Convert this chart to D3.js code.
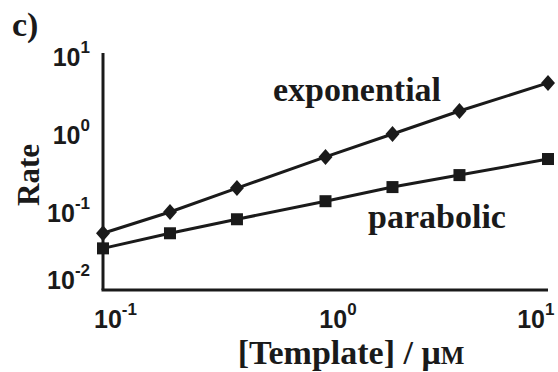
<!DOCTYPE html>
<html>
<head>
<meta charset="utf-8">
<script src="https://cdn.jsdelivr.net/npm/d3@7"></script>
<style>
  body { margin: 0; background: #fff; }
  .tick text { font-family: "Liberation Sans", Arial, sans-serif; font-weight: 700; }
  .serif { font-family: "Liberation Serif", "Times New Roman", serif; font-weight: 700; }
</style>
</head>
<body>
<div id="chart"></div>
<script>
// Template concentration (uM) and rates
var template = [0.1, 0.2, 0.4, 1, 2, 4, 10];
var exponential = [0.053, 0.099, 0.2, 0.5, 0.98, 1.93, 4.4];
var parabolic = [0.034, 0.053, 0.080, 0.136, 0.206, 0.293, 0.47];
var xTicks = [0.1, 1, 10];
var yTicks = [0.01, 0.1, 1, 10];

var svgWidth = 558;
var svgHeight = 372;
var ink = "#1a1a1a";

var svg = d3.select("#chart")
    .append("svg")
    .attr("width", svgWidth)
    .attr("height", svgHeight);

var x = d3.scaleLog().domain([0.1, 10]).range([103, 548]);
var y = d3.scaleLog().domain([0.01, 10]).range([290, 55]);

function expOf(v) { return Math.round(Math.log10(v)); }

// axes: just the two lines, no tick marks
svg.append("line")
    .attr("x1", x(0.1)).attr("x2", x(0.1))
    .attr("y1", y(10) - 2).attr("y2", y(0.01))
    .attr("stroke", ink).attr("stroke-width", 3);
svg.append("line")
    .attr("x1", x(0.1) - 1.5).attr("x2", x(10))
    .attr("y1", y(0.01)).attr("y2", y(0.01))
    .attr("stroke", ink).attr("stroke-width", 3);

var xAxis = svg.append("g")
    .attr("transform", `translate(0, ${y(0.01)})`)
    .call(d3.axisBottom(x).tickValues(xTicks).tickSize(0).tickFormat(""));
xAxis.select(".domain").remove();
xAxis.selectAll(".tick text")
    .attr("y", 38)
    .attr("dy", 0)
    .attr("fill", ink)
    .attr("font-size", "25px")
    .attr("text-anchor", (d, i) => i === xTicks.length - 1 ? "end" : "middle")
    .attr("dx", (d, i) => i === xTicks.length - 1 ? 6 : 12)
    .each(function (d) {
        var t = d3.select(this);
        t.append("tspan").text("10");
        t.append("tspan").attr("dy", -13).attr("font-size", "17px").text(expOf(d));
    });

var yAxis = svg.append("g")
    .attr("transform", `translate(${x(0.1)}, 0)`)
    .call(d3.axisLeft(y).tickValues(yTicks).tickSize(0).tickFormat(""));
yAxis.select(".domain").remove();
yAxis.selectAll(".tick text")
    .attr("x", -13)
    .attr("dy", (d, i) => i === 0 ? -2 : 10)
    .attr("fill", ink)
    .attr("font-size", "25px")
    .attr("text-anchor", "end")
    .each(function (d) {
        var t = d3.select(this);
        t.append("tspan").text("10");
        t.append("tspan").attr("dy", -13).attr("font-size", "17px").text(expOf(d));
    });

// series lines
var line = d3.line()
    .x(d => x(d[0]))
    .y(d => y(d[1]));

var expData = template.map((t, i) => [t, exponential[i]]);
var parData = template.map((t, i) => [t, parabolic[i]]);

svg.append("path")
    .datum(expData)
    .attr("d", line)
    .attr("fill", "none")
    .attr("stroke", ink)
    .attr("stroke-width", 3);

svg.append("path")
    .datum(parData)
    .attr("d", line)
    .attr("fill", "none")
    .attr("stroke", ink)
    .attr("stroke-width", 3);

// markers
svg.append("g").selectAll("path")
    .data(expData)
    .enter()
    .append("path")
    .attr("transform", d => `translate(${x(d[0])}, ${y(d[1])})`)
    .attr("d", "M0,-8L7,0L0,8L-7,0Z")
    .attr("fill", ink);

svg.append("g").selectAll("rect")
    .data(parData)
    .enter()
    .append("rect")
    .attr("x", d => x(d[0]) - 6)
    .attr("y", d => y(d[1]) - 6)
    .attr("width", 12)
    .attr("height", 12)
    .attr("fill", ink);

// labels
svg.append("text")
    .attr("class", "serif")
    .attr("x", 12).attr("y", 36)
    .attr("font-size", "34px")
    .attr("fill", ink)
    .text("c)");

svg.append("text")
    .attr("class", "serif")
    .attr("transform", "translate(39, 175) rotate(-90)")
    .attr("text-anchor", "middle")
    .attr("font-size", "31px")
    .attr("fill", ink)
    .text("Rate");

svg.append("text")
    .attr("class", "serif")
    .attr("x", 357).attr("y", 101)
    .attr("text-anchor", "middle")
    .attr("font-size", "34px")
    .attr("fill", ink)
    .text("exponential");

svg.append("text")
    .attr("class", "serif")
    .attr("x", 437).attr("y", 228)
    .attr("text-anchor", "middle")
    .attr("font-size", "34px")
    .attr("fill", ink)
    .text("parabolic");

var xlab = svg.append("text")
    .attr("class", "serif")
    .attr("x", 351).attr("y", 364)
    .attr("text-anchor", "middle")
    .attr("font-size", "34px")
    .attr("fill", ink);
xlab.append("tspan").text("[Template] / μ");
xlab.append("tspan").attr("font-size", "25px").text("M");
</script>
</body>
</html>
